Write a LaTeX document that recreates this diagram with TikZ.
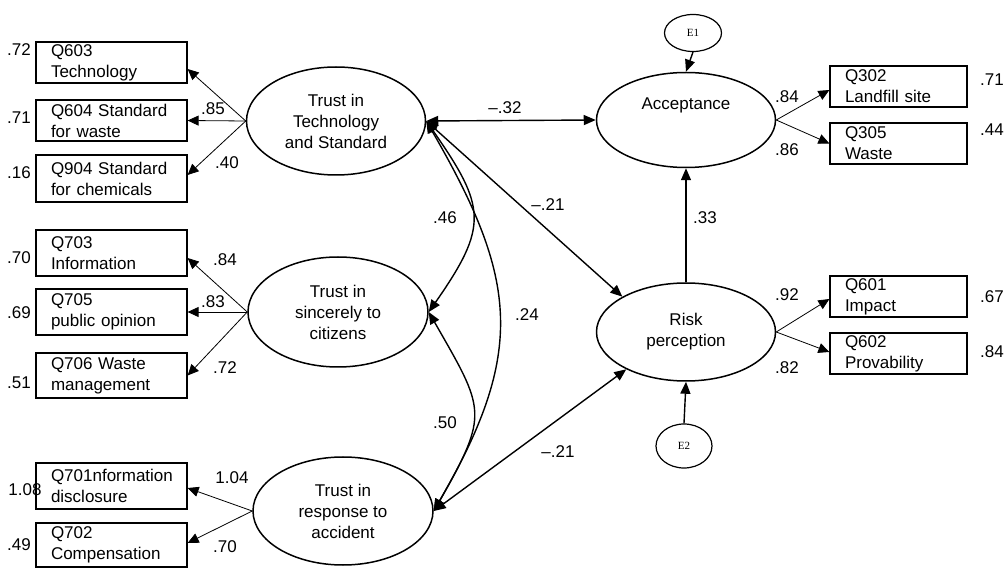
\documentclass[tikz,border=0pt]{standalone}
\usepackage{fontspec}
\setmainfont{Liberation Sans}
\newfontfamily\serifE{Liberation Serif}
\usetikzlibrary{shapes.geometric,arrows.meta,calc}
\begin{document}
\begin{tikzpicture}[x=1pt,y=-1pt,
  font=\fontsize{17}{21}\selectfont,
  lbox/.style={draw,rectangle,line width=1.2pt,inner xsep=15pt,inner ysep=0pt,text width=121pt,align=left,minimum height=#1},
  rbox/.style={draw,rectangle,line width=1.2pt,inner xsep=15pt,inner ysep=0pt,text width=107pt,align=left,minimum height=#1},
  lat/.style={draw,ellipse,line width=1.5pt,inner sep=0pt,align=center},
  err/.style={draw,ellipse,line width=1.2pt,inner sep=0pt,font=\serifE\fontsize{11}{13}\selectfont},
  load/.style={line width=0.8pt,-{Triangle[length=11pt,width=10pt]}},
  path/.style={line width=1.4pt,-{Triangle[length=12pt,width=10pt]}},
  cov/.style={line width=1.4pt,{Triangle[length=12pt,width=10pt]}-{Triangle[length=12pt,width=10pt]}},
  num/.style={inner sep=0pt}]
\useasboundingbox (0,0) rectangle (1005,569);

% latent variables
\node[lat,minimum width=179pt,minimum height=108pt] (tech) at (336,121) {Trust in\\Technology\\and Standard};
\node[lat,minimum width=180pt,minimum height=110pt] (sinc) at (338,312) {Trust in\\sincerely to\\citizens};
\node[lat,minimum width=180pt,minimum height=108pt] (resp) at (343,511) {Trust in\\response to\\accident};
\node[lat,minimum width=179pt,minimum height=95pt] (acc) at (686,120) {Acceptance\\[12pt]\mbox{}};
\node[lat,minimum width=179pt,minimum height=98pt] (risk) at (686,332) {Risk\\perception};
\node[err,minimum width=57pt,minimum height=37pt] (e1) at (693,33) {E1};
\node[err,minimum width=56pt,minimum height=44pt] (e2) at (684,446) {E2};

% observed variables, left
\node[lbox=41pt] (q603) at (111.5,62.5) {Q603\\Technology};
\node[lbox=41pt] (q604) at (111.5,120.5) {Q604 Standard\\for waste};
\node[lbox=47pt] (q904) at (111.5,178.5) {Q904 Standard\\for chemicals};
\node[lbox=46pt] (q703) at (111.5,253) {Q703\\Information};
\node[lbox=46pt] (q705) at (111.5,312) {Q705\\public opinion};
\node[lbox=45pt] (q706) at (111.5,375.5) {Q706 Waste\\management};
\node[lbox=46pt] (q701) at (111.5,486) {Q701nformation\\disclosure};
\node[lbox=44pt] (q702) at (111.5,545) {Q702\\Compensation};

% observed variables, right
\node[rbox=41pt] (q302) at (898.5,86.5) {Q302\\Landfill site};
\node[rbox=41pt] (q305) at (898.5,143.5) {Q305\\Waste};
\node[rbox=41pt] (q601) at (898.5,296.5) {Q601\\Impact};
\node[rbox=41pt] (q602) at (898.5,353.5) {Q602\\Provability};

% error variances / R2
\node[num] (r603) at (19,50) {.72};
\node[num] (r604) at (19,118) {.71};
\node[num] (r904) at (19,173) {.16};
\node[num] (r703) at (19,258) {.70};
\node[num] (r705) at (19,313) {.69};
\node[num] (r706) at (19,383) {.51};
\node[num] (r701) at (25,490) {1.08};
\node[num] (r702) at (19,545) {.49};
\node[num] (r302) at (992,80) {.71};
\node[num] (r305) at (992,130) {.44};
\node[num] (r601) at (992,297) {.67};
\node[num] (r602) at (992,352) {.84};

% loadings
\draw[load] (tech.west) -- ([yshift=-6.5pt]q603.east);
\draw[load] (tech.west) -- (q604.east);
\draw[load] (tech.west) -- ([yshift=3.5pt]q904.east);
\draw[load] (sinc.west) -- ([yshift=-5pt]q703.east);
\draw[load] (sinc.west) -- (q705.east);
\draw[load] (sinc.west) -- (q706.east);
\draw[load] (resp.west) -- ([yshift=-2pt]q701.east);
\draw[load] (resp.west) -- ([yshift=2pt]q702.east);
\draw[load] (acc.east) -- ([yshift=-3.5pt]q302.west);
\draw[load] (acc.east) -- (q305.west);
\draw[load] (risk.east) -- ([yshift=-2.5pt]q601.west);
\draw[load] (risk.east) -- ([yshift=1.5pt]q602.west);

\node[num] (l604) at (213,109) {.85};
\node[num] (l904) at (227,163) {.40};
\node[num] (l703) at (225,260) {.84};
\node[num] (l705) at (213,302) {.83};
\node[num] (l706) at (225,368) {.72};
\node[num] (l701) at (232,478) {1.04};
\node[num] (l702) at (225,547) {.70};
\node[num] (l302) at (787,97) {.84};
\node[num] (l305) at (787,150) {.86};
\node[num] (l601) at (787,295) {.92};
\node[num] (l602) at (787,368) {.82};

% structural paths
\draw[path] (e1.south) -- (acc.north);
\draw[path] (e2.north) -- (risk.south);
\draw[path] (risk.north) -- (acc.south);
\node[num] (p33) at (705,218) {.33};

\draw[cov] (tech.east) -- (acc.west);
\draw[cov] (tech.east) -- (risk.151);
\draw[cov] (resp.east) -- (risk.212);
\draw[cov] (tech.east) .. controls ($(tech.east)+(60,86)$) and ($(sinc.east)+(60,-86)$) .. (sinc.east);
\draw[cov] (tech.east) .. controls ($(tech.east)+(92,159)$) and ($(resp.east)+(92,-159)$) .. (resp.east);
\draw[cov] (sinc.east) .. controls ($(sinc.east)+(56,98)$) and ($(resp.east)+(56,-98)$) .. (resp.east);

\node[num] (c32) at (505,108) {–.32};
\node[num] (c21a) at (548,205) {–.21};
\node[num] (c46) at (445,218) {.46};
\node[num] (c24) at (527,315) {.24};
\node[num] (c50) at (445,423) {.50};
\node[num] (c21b) at (558,452) {–.21};
\end{tikzpicture}
\end{document}
